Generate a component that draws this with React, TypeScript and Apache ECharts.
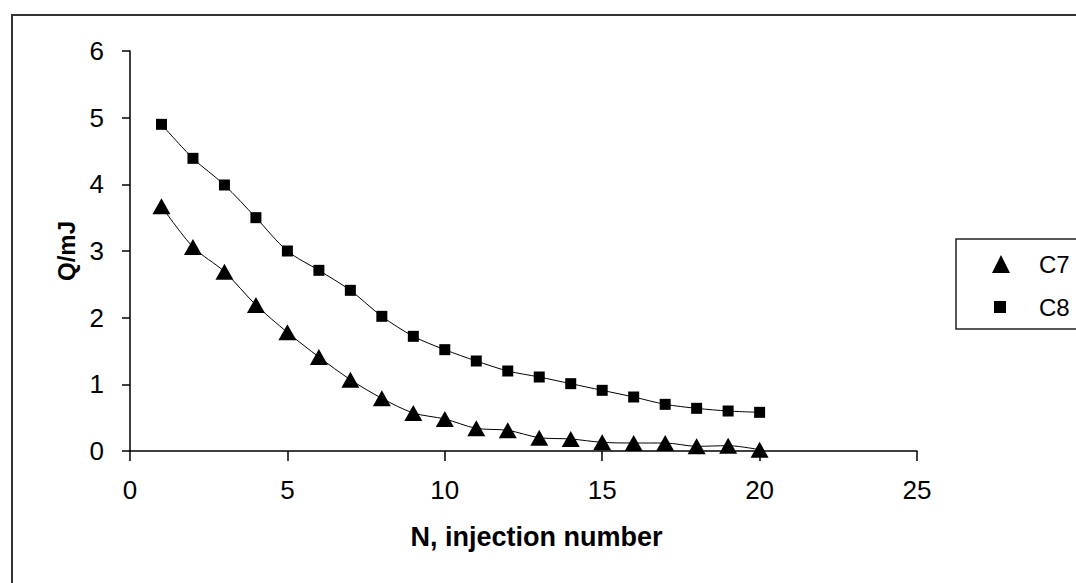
import React, { useEffect, useRef } from "react";
import * as echarts from "echarts";

const injections = [1, 2, 3, 4, 5, 6, 7, 8, 9, 10, 11, 12, 13, 14, 15, 16, 17, 18, 19, 20];
const c7Values = [3.67, 3.06, 2.69, 2.19, 1.78, 1.41, 1.07, 0.79, 0.57, 0.48, 0.34, 0.31, 0.2, 0.18, 0.13, 0.12, 0.12, 0.07, 0.08, 0.02];
const c8Values = [4.9, 4.39, 3.99, 3.5, 3.0, 2.71, 2.41, 2.02, 1.72, 1.52, 1.35, 1.2, 1.11, 1.01, 0.91, 0.81, 0.7, 0.64, 0.6, 0.58];
const seriesNames = ["C7", "C8"];

const FONT = "'Liberation Sans', Arial, sans-serif";

export default function App() {
  const ref = useRef<HTMLDivElement>(null);
  useEffect(() => {
    if (!ref.current) return;
    const chart = echarts.init(ref.current, null, { renderer: "svg" });
    const pair = (vals: number[]) => injections.map((n, i) => [n, vals[i]]);
    chart.setOption({
      animation: false,
      backgroundColor: "#ffffff",
      textStyle: { fontFamily: FONT, color: "#000" },
      grid: { left: 130, right: 159, top: 51, bottom: 132, containLabel: false },
      xAxis: {
        type: "value",
        min: 0,
        max: 25,
        interval: 5,
        name: "N, injection number",
        nameLocation: "middle",
        nameGap: 72,
        nameTextStyle: { fontFamily: FONT, fontSize: 27, fontWeight: "bold", color: "#000", padding: [0, 0, 0, 26] },
        axisLine: { show: true, onZero: false, lineStyle: { color: "#000", width: 1.5 } },
        axisTick: { show: true, length: 10, lineStyle: { color: "#000", width: 1.5 } },
        axisLabel: { fontFamily: FONT, fontSize: 26, color: "#000", margin: 26 },
        splitLine: { show: false },
      },
      yAxis: {
        type: "value",
        min: 0,
        max: 6,
        interval: 1,
        name: "Q/mJ",
        nameLocation: "middle",
        nameGap: 32,
        nameTextStyle: { fontFamily: FONT, fontSize: 24, fontWeight: "bold", color: "#000" },
        axisLine: { show: true, lineStyle: { color: "#000", width: 1.5 } },
        axisTick: { show: true, length: 8, lineStyle: { color: "#000", width: 1.5 } },
        axisLabel: { fontFamily: FONT, fontSize: 26, color: "#000", margin: 26 },
        splitLine: { show: false },
      },
      legend: [
        {
          data: [seriesNames[0]],
          icon: "triangle",
          itemWidth: 18,
          itemHeight: 18,
          left: 992,
          top: 252,
          padding: 0,
          textStyle: { fontFamily: FONT, fontSize: 24, color: "#000", padding: [0, 0, 0, 24] },
          itemStyle: { color: "#000" },
        },
        {
          data: [seriesNames[1]],
          icon: "rect",
          itemWidth: 12,
          itemHeight: 12,
          left: 994,
          top: 295,
          padding: 0,
          textStyle: { fontFamily: FONT, fontSize: 24, color: "#000", padding: [0, 0, 0, 28] },
          itemStyle: { color: "#000" },
        },
      ],
      graphic: [
        {
          type: "rect",
          shape: { x: 12, y: 15, width: 1200, height: 700 },
          style: { fill: "none", stroke: "#333", lineWidth: 2 },
          silent: true,
          z: 0,
        },
        {
          type: "rect",
          shape: { x: 956, y: 239, width: 200, height: 90 },
          style: { fill: "#fff", stroke: "#222", lineWidth: 1.5 },
          silent: true,
          z: 0,
        },
      ],
      series: [
        {
          name: seriesNames[0],
          type: "line",
          data: pair(c7Values),
          smooth: 0.3,
          symbol: "triangle",
          symbolSize: [18, 16],
          lineStyle: { color: "#000", width: 1 },
          itemStyle: { color: "#000" },
          z: 3,
        },
        {
          name: seriesNames[1],
          type: "line",
          data: pair(c8Values),
          smooth: 0.3,
          symbol: "rect",
          symbolSize: 11,
          lineStyle: { color: "#000", width: 1 },
          itemStyle: { color: "#000" },
          z: 3,
        },
      ],
    });
    return () => chart.dispose();
  }, []);
  return (
    <div
      ref={ref}
      style={{ position: "fixed", left: 0, top: 0, width: 1076, height: 583, background: "#fff" }}
    />
  );
}
